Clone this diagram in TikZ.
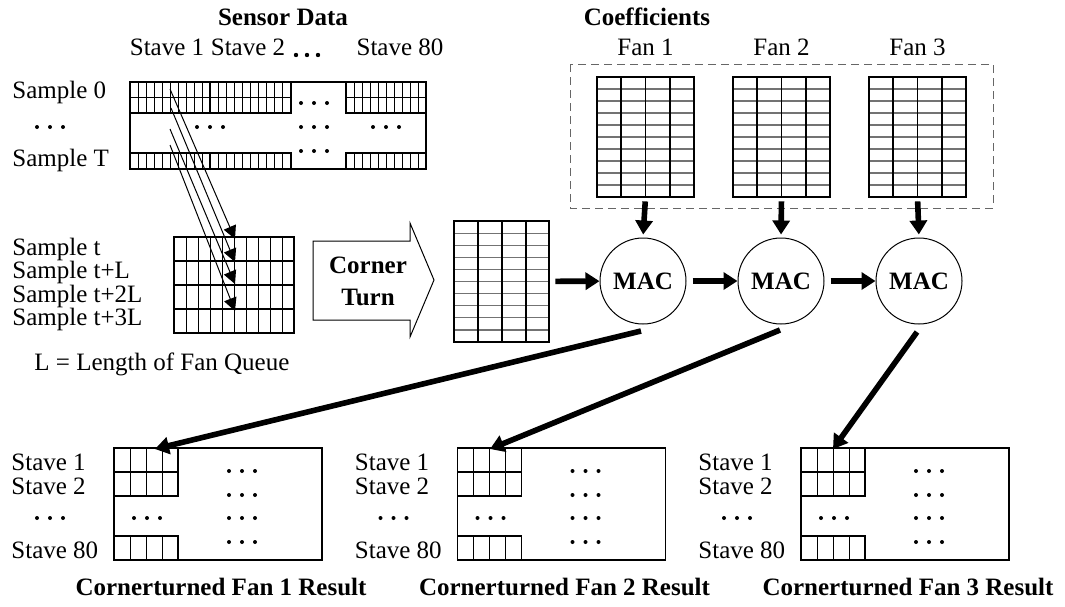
\documentclass[tikz,border=0pt]{standalone}
\usepackage{fontspec}
\setmainfont{Liberation Serif}
\usetikzlibrary{arrows.meta}

\tikzset{
  tridots/.pic={\foreach \i in {-13,0,13}{\fill (\i,0) circle (1pt);}},
  headdots/.pic={\foreach \i in {-11,0,11}{\fill (\i,0) circle (1.1pt);}},
  lbl/.style={inner sep=0pt, anchor=west},
  ttl/.style={inner sep=0pt, font=\fontsize{12.5}{16}\selectfont\bfseries},
  fat/.style={line width=2.8pt, -{Triangle[length=7pt,width=8.5pt]}},
  thinarrow/.style={line width=0.5pt, -{Triangle[length=6.5pt,width=6.5pt]}},
  frame/.style={line width=0.8pt},
  heavy/.style={line width=0.9pt},
  hair/.style={line width=0.45pt},
  grayline/.style={line width=0.6pt, black!55},
  mac/.style={circle, draw, line width=0.5pt, minimum size=43pt, inner sep=0pt,
    font=\fontsize{12.5}{15}\selectfont\bfseries},
  anchorbox/.style={rectangle, inner sep=0pt, draw=none},
}

\begin{document}
\begin{tikzpicture}[x=0.5pt,y=-0.5pt, font=\fontsize{12.5}{15}\selectfont]
\useasboundingbox (0,0) rectangle (1065,606);

% ---------------- Sensor data block ----------------
\node[ttl] (sensortitle) at (283,17) {Sensor Data};
\node[inner sep=0pt] (st1) at (167,47) {Stave 1};
\node[inner sep=0pt] (st2) at (248,47) {Stave 2};
\pic at (307,55) {headdots};
\node[inner sep=0pt] (st80) at (400,47) {Stave 80};

\node[lbl] (s0) at (12,92) {Sample 0};
\pic at (50,127) {tridots};
\node[lbl] (sT) at (12,160) {Sample T};

\draw[frame] (130,82) rectangle (426,169);
\foreach \a/\b in {130/210,210/291,346/426}{
  \foreach \k in {1,...,9}{
    \draw[hair] ({\a+\k*(\b-\a)/10},82) -- ++(0,31);
    \draw[hair] ({\a+\k*(\b-\a)/10},153) -- ++(0,16);
  }
  \draw[frame] (\a,82) rectangle (\b,113);
  \draw[frame] (\a,97.5) -- (\b,97.5);
  \draw[frame] (\a,153) rectangle (\b,169);
}
\pic at (210,127) {tridots};
\pic at (314,103) {tridots};
\pic at (314,127) {tridots};
\pic at (314,151) {tridots};
\pic at (386,127) {tridots};

% ---------------- Samples gathered per fan queue ----------------
\node[lbl] (t0) at (12,249) {Sample t};
\node[lbl] (t1) at (12,272) {Sample t+L};
\node[lbl] (t2) at (12,296) {Sample t+2L};
\node[lbl] (t3) at (12,319) {Sample t+3L};

\foreach \k in {1,...,9}{\draw[hair] ({174+\k*12},237) -- ++(0,96);}
\foreach \r in {261,285,309}{\draw[heavy] (174,\r) -- (294,\r);}
\draw[heavy] (174,237) rectangle (294,333);

\coordinate (a0) at (170,89);
\coordinate (a1) at (171,108);
\coordinate (a2) at (170,129);
\coordinate (a3) at (170,145);
\coordinate (b0) at (235,239);
\coordinate (b1) at (235,262);
\coordinate (b2) at (235,284);
\coordinate (b3) at (235,311);
\foreach \i in {0,...,3}{\draw[thinarrow] (a\i) -- (b\i);}

\node[lbl] (lq) at (34,364) {L = Length of Fan Queue};

% ---------------- Corner turn ----------------
\draw[line width=0.5pt] (313,241) -- (410,241) -- (410,223) -- (434,280)
  -- (410,337) -- (410,320) -- (313,320) -- cycle;
\node[ttl, align=center] (ct) at (368,281) {Corner\\Turn};

% corner-turned matrix
\foreach \r in {1,...,9}{\draw[grayline] (454,{221+\r*12.1}) -- (549,{221+\r*12.1});}
\foreach \c in {478,502,526}{\draw[heavy] (\c,221) -- (\c,342);}
\draw[heavy] (454,221) rectangle (549,342);
\node[anchorbox, minimum width=47.5pt, minimum height=60.5pt] (ctm) at (501.5,281.5) {};

% ---------------- Coefficients ----------------
\node[ttl] (coefftitle) at (647,17) {Coefficients};
\draw[dashed, dash pattern=on 4pt off 2.5pt, line width=0.5pt, black!60] (570,64) rectangle (993,208);
\foreach \L/\n in {597/1,733/2,869/3}{
  \foreach \r in {1,...,9}{\draw[grayline] (\L,{77+\r*12}) -- ({\L+97},{77+\r*12});}
  \foreach \c in {1,2,3}{\draw[heavy] ({\L+\c*24.25},77) -- ({\L+\c*24.25},197);}
  \draw[heavy] (\L,77) rectangle ({\L+97},197);
  \node[anchorbox, minimum width=48.5pt, minimum height=60pt] (cf\n) at ({\L+48.5},137) {};
  \node[inner sep=0pt] (fan\n) at ({\L+48.5},47) {Fan \n};
}

% ---------------- MAC units ----------------
\node[mac] (mac1) at (643,281) {MAC};
\node[mac] (mac2) at (781,281) {MAC};
\node[mac] (mac3) at (919,281) {MAC};

\draw[fat, shorten <=3pt] (ctm) -- (mac1);
\draw[fat, shorten <=3pt] (mac1) -- (mac2);
\draw[fat, shorten <=3pt] (mac2) -- (mac3);
\foreach \n in {1,2,3}{
  \draw[fat, shorten <=2pt, shorten >=1.5pt] (cf\n.south) -- (mac\n.north);
}

% ---------------- Cornerturned results ----------------
\foreach \L/\n in {114/1,457.5/2,801/3}{
  \draw[frame] (\L,448) rectangle ({\L+208},560);
  \foreach \k in {1,2,3}{
    \draw[hair] ({\L+\k*16},448) -- ({\L+\k*16},496);
    \draw[hair] ({\L+\k*16},536) -- ({\L+\k*16},560);
  }
  \draw[frame] (\L,448) rectangle ({\L+64},496);
  \draw[frame] (\L,472) -- ({\L+64},472);
  \draw[frame] (\L,536) rectangle ({\L+64},560);
  \pic at ({\L+33},518) {tridots};
  \foreach \y in {471,495,518,542}{\pic at ({\L+128},\y) {tridots};}
  \node[lbl] (r\n s1) at ({\L-103},462) {Stave 1};
  \node[lbl] (r\n s2) at ({\L-103},486) {Stave 2};
  \pic at ({\L-64},518) {tridots};
  \node[lbl] (r\n s80) at ({\L-103},550) {Stave 80};
  \node[ttl] (r\n t) at ({\L+107},587) {Cornerturned Fan \n{} Result};
}

\coordinate (m1) at (641,331);
\coordinate (m2) at (780,330);
\coordinate (m3) at (917,332);
\coordinate (e1) at (155,449);
\coordinate (e2) at (490,449);
\coordinate (e3) at (833,449);
\foreach \n in {1,2,3}{\draw[fat] (m\n) -- (e\n);}

\end{tikzpicture}
\end{document}
